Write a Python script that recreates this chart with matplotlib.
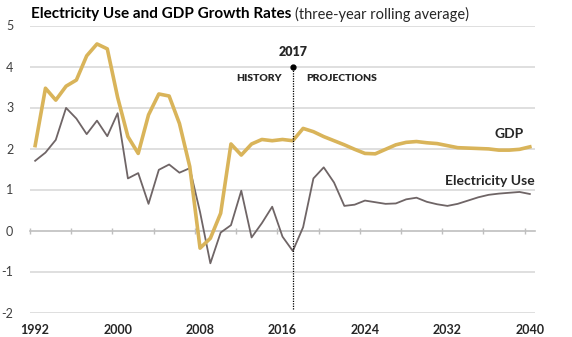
import matplotlib
matplotlib.use("Agg")
import matplotlib.pyplot as plt

plt.rcParams["font.family"] = ["Lato", "DejaVu Sans"]

years = list(range(1992, 2041))

gdp = [2.07, 3.47, 3.18, 3.52, 3.67, 4.26, 4.55, 4.43, 3.25, 2.29,
       1.88, 2.82, 3.33, 3.28, 2.61, 1.56, -0.43, -0.19, 0.42, 2.11,
       1.84, 2.11, 2.22, 2.19, 2.22, 2.19, 2.49, 2.41, 2.29, 2.19,
       2.09, 1.98, 1.88, 1.87, 1.98, 2.09, 2.15, 2.17, 2.14, 2.12,
       2.07, 2.02, 2.01, 2.00, 1.99, 1.96, 1.96, 1.98, 2.04]

electricity = [1.70, 1.90, 2.21, 2.99, 2.73, 2.35, 2.68, 2.30, 2.86, 1.27,
               1.40, 0.65, 1.48, 1.61, 1.41, 1.52, 0.45, -0.80, -0.05, 0.13,
               0.97, -0.17, 0.18, 0.58, -0.15, -0.50, 0.08, 1.27, 1.54, 1.17,
               0.60, 0.63, 0.73, 0.69, 0.65, 0.66, 0.76, 0.80, 0.70, 0.64,
               0.60, 0.65, 0.73, 0.81, 0.87, 0.90, 0.92, 0.94, 0.89]

year_labels = [1992, 2000, 2008, 2016, 2024, 2032, 2040]
split_year = 2017

GOLD = "#D9B45A"
GREY = "#6F6566"
GRID = "#D9D9D9"
TEXT = "#262626"

fig = plt.figure(figsize=(5.72, 3.37), dpi=100)
ax = fig.add_axes([30 / 572, 24.5 / 337, 505 / 572, 287 / 337])

ax.set_xlim(1991.5, 2040.5)
ax.set_ylim(-2, 5)

for v in [-2, -1, 1, 2, 3, 4, 5]:
    ax.axhline(v, color=GRID, lw=1.2, zorder=0)

ax.plot(years, electricity, color=GREY, lw=1.3, zorder=3)
ax.plot(years, gdp, color=GOLD, lw=2.6, zorder=4)

# year boundary between history and projections
ax.plot([split_year, split_year], [-1.92, 4], color="black", lw=0.9,
        ls=(0, (1, 1)), zorder=5)
ax.plot([split_year], [4], "o", color="black", ms=3.5, zorder=6)
ax.text(split_year, 4.2, "2017", ha="center", va="bottom",
        fontsize=9, fontweight="heavy", color=TEXT)
ax.text(split_year - 1.1, 3.7, "HISTORY", ha="right", va="center",
        fontsize=7.5, fontweight="heavy", color=TEXT)
ax.text(split_year + 1.3, 3.7, "PROJECTIONS", ha="left", va="center",
        fontsize=7.5, fontweight="heavy", color=TEXT)

ax.text(2039.4, 2.35, "GDP", ha="right", va="center",
        fontsize=10, fontweight="bold", color=TEXT)
ax.text(2040.5, 1.2, "Electricity Use", ha="right", va="center",
        fontsize=10, fontweight="bold", color=TEXT)

# zero line carries the category tick marks
zero_axis = ax.secondary_xaxis(2 / 7)
zero_axis.set_xticks([1991.5 + 4 * k for k in range(13)])
zero_axis.tick_params(direction="inout", length=5, width=1, color="#BFBFBF",
                      labelbottom=False, labeltop=False)
zero_axis.spines["bottom"].set_color("#BFBFBF")
zero_axis.spines["bottom"].set_linewidth(1.2)

ax.set_xticks(year_labels)
ax.set_xticklabels([str(y) for y in year_labels], fontsize=9,
                   fontweight="bold", color=TEXT)
ax.tick_params(axis="x", length=0, pad=8)
ax.set_yticks(range(-2, 6))
ax.set_yticklabels([str(v) for v in range(-2, 6)], fontsize=9, color="#404040")
ax.tick_params(axis="y", length=0, pad=12)

for spine in ax.spines.values():
    spine.set_visible(False)

# bold title followed by the regular subtitle on the same line
title = fig.text(31 / 572, 1 - 14 / 337, "Electricity Use and GDP Growth Rates",
                 ha="left", va="center", fontsize=11, fontweight="bold",
                 color="black")
renderer = fig.canvas.get_renderer()
bb = title.get_window_extent(renderer)
fig.text((bb.x1 + 4) / 572, 1 - 14 / 337, "(three-year rolling average)",
         ha="left", va="center", fontsize=10.5, color="#262626")

fig.savefig("out.png", dpi=100, facecolor="white")
